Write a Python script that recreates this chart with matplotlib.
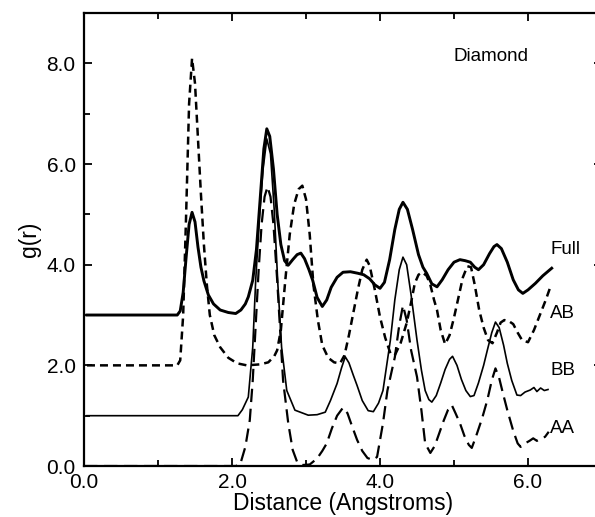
import numpy as np
import matplotlib
matplotlib.use("Agg")
import matplotlib.pyplot as plt
from matplotlib.ticker import MultipleLocator, FormatStrFormatter

plt.rcParams['font.family'] = ['Liberation Sans', 'DejaVu Sans']

# Full g(r), offset +3
full_x = [0.04, 1.26, 1.30, 1.34, 1.38, 1.42, 1.46, 1.50, 1.54, 1.58, 1.62, 1.68, 1.75, 1.84, 1.95,
          2.05, 2.12, 2.18, 2.22, 2.28, 2.33, 2.38, 2.43, 2.47, 2.51, 2.56, 2.61, 2.66, 2.71, 2.76,
          2.82, 2.88, 2.93, 2.98, 3.04, 3.09, 3.15, 3.22, 3.28, 3.34, 3.42, 3.50, 3.60, 3.70, 3.78,
          3.86, 3.93, 4.00, 4.06, 4.13, 4.20, 4.26, 4.31, 4.37, 4.44, 4.52, 4.58, 4.63, 4.70, 4.77,
          4.84, 4.92, 5.00, 5.08, 5.15, 5.22, 5.28, 5.33, 5.40, 5.48, 5.54, 5.58, 5.64, 5.72, 5.80,
          5.87, 5.93, 6.00, 6.10, 6.20, 6.32]
full_y = [3.0, 3.0, 3.08, 3.45, 4.15, 4.8, 5.04, 4.85, 4.35, 3.95, 3.68, 3.4, 3.22, 3.1, 3.05,
          3.03, 3.1, 3.22, 3.36, 3.69, 4.3, 5.3, 6.3, 6.7, 6.55, 5.9, 5.0, 4.4, 4.08, 3.99,
          4.1, 4.2, 4.23, 4.12, 3.9, 3.69, 3.35, 3.17, 3.3, 3.55, 3.75, 3.85, 3.86, 3.83, 3.8,
          3.72, 3.6, 3.53, 3.65, 4.1, 4.7, 5.1, 5.24, 5.1, 4.7, 4.2, 3.95, 3.83, 3.62, 3.56,
          3.7, 3.9, 4.05, 4.1, 4.08, 4.05, 3.95, 3.9, 4.0, 4.22, 4.36, 4.4, 4.32, 4.05, 3.7,
          3.5, 3.43, 3.5, 3.63, 3.78, 3.93]

# AB, offset +2
ab_x = [0.04, 1.26, 1.30, 1.34, 1.38, 1.42, 1.46, 1.50, 1.54, 1.58, 1.62, 1.66, 1.70, 1.76, 1.84,
        1.95, 2.07, 2.20, 2.38, 2.49, 2.57, 2.61, 2.66, 2.72, 2.78, 2.84, 2.90, 2.95, 3.00, 3.05,
        3.10, 3.16, 3.22, 3.30, 3.38, 3.46, 3.52, 3.58, 3.64, 3.70, 3.76, 3.82, 3.86, 3.93, 4.00,
        4.07, 4.14, 4.20, 4.28, 4.36, 4.42, 4.47, 4.52, 4.57, 4.63, 4.68, 4.73, 4.77, 4.82, 4.88,
        4.94, 5.00, 5.06, 5.12, 5.18, 5.23, 5.28, 5.34, 5.40, 5.46, 5.52, 5.58, 5.63, 5.68, 5.74,
        5.80, 5.86, 5.92, 6.00, 6.08, 6.16, 6.24, 6.30]
ab_y = [2.0, 2.0, 2.1, 3.0, 5.0, 7.2, 8.1, 7.6, 6.5, 5.4, 4.4, 3.6, 3.0, 2.6, 2.36,
        2.15, 2.04, 2.0, 2.02, 2.06, 2.18, 2.3, 2.7, 3.69, 4.6, 5.2, 5.5, 5.57, 5.3, 4.6,
        3.6, 2.9, 2.4, 2.15, 2.06, 2.04, 2.2, 2.6, 3.05, 3.5, 3.9, 4.1, 3.98, 3.5, 2.96,
        2.55, 2.24, 2.2, 2.45, 2.84, 3.25, 3.63, 3.8, 3.85, 3.78, 3.6, 3.3, 3.1, 2.7, 2.42,
        2.6, 2.95, 3.35, 3.75, 3.97, 3.95, 3.6, 3.1, 2.75, 2.5, 2.44, 2.65, 2.85, 2.9, 2.88,
        2.82, 2.65, 2.5, 2.46, 2.7, 3.0, 3.3, 3.55]

# BB, offset +1
bb_x = [0.04, 2.08, 2.14, 2.22, 2.28, 2.32, 2.37, 2.42, 2.47, 2.52, 2.57, 2.62, 2.67, 2.74, 2.85,
        3.03, 3.15, 3.26, 3.33, 3.42, 3.48, 3.53, 3.58, 3.64, 3.69, 3.76, 3.84, 3.91, 3.98, 4.04,
        4.09, 4.14, 4.20, 4.26, 4.31, 4.36, 4.42, 4.50, 4.56, 4.61, 4.66, 4.70, 4.76, 4.82, 4.88,
        4.94, 4.98, 5.04, 5.10, 5.16, 5.22, 5.27, 5.33, 5.40, 5.45, 5.51, 5.56, 5.61, 5.67, 5.72,
        5.78, 5.85, 5.90, 5.96, 6.03, 6.08, 6.12, 6.17, 6.22, 6.27]
bb_y = [1.0, 1.0, 1.12, 1.37, 2.36, 3.69, 4.9, 5.9, 6.5, 6.2, 5.1, 3.6, 2.36, 1.5, 1.11,
        1.01, 1.02, 1.07, 1.3, 1.64, 1.95, 2.17, 2.05, 1.8, 1.6, 1.3, 1.1, 1.08, 1.25, 1.5,
        2.0, 2.5, 3.3, 3.9, 4.15, 4.0, 3.4, 2.5, 1.9, 1.5, 1.32, 1.27, 1.4, 1.65, 1.92,
        2.12, 2.18, 2.0, 1.72, 1.5, 1.38, 1.4, 1.65, 2.0, 2.3, 2.65, 2.86, 2.75, 2.4, 2.04,
        1.7, 1.41, 1.4, 1.47, 1.51, 1.56, 1.48, 1.55, 1.5, 1.52]

# AA, no offset
aa_x = [0.0, 2.05, 2.11, 2.18, 2.24, 2.28, 2.32, 2.36, 2.40, 2.44, 2.48, 2.52, 2.56, 2.61, 2.65,
        2.69, 2.76, 2.82, 2.88, 2.95, 3.05, 3.15, 3.22, 3.28, 3.35, 3.42, 3.50, 3.56, 3.62, 3.69,
        3.76, 3.83, 3.90, 3.96, 4.04, 4.10, 4.16, 4.20, 4.26, 4.31, 4.36, 4.42, 4.50, 4.56, 4.61,
        4.68, 4.74, 4.80, 4.86, 4.92, 4.97, 5.02, 5.08, 5.14, 5.20, 5.24, 5.30, 5.38, 5.45, 5.51,
        5.56, 5.61, 5.66, 5.72, 5.80, 5.86, 5.90, 5.96, 6.02, 6.07, 6.12, 6.18, 6.23, 6.28]
aa_y = [0.0, 0.0, 0.03, 0.38, 0.91, 1.7, 2.8, 3.9, 4.8, 5.35, 5.55, 5.35, 4.8, 3.7, 2.7,
        1.7, 0.85, 0.32, 0.08, 0.02, 0.03, 0.15, 0.3, 0.45, 0.75, 1.0, 1.16, 1.05, 0.8, 0.52,
        0.3, 0.16, 0.12, 0.18, 0.85, 1.5, 1.9, 2.16, 2.8, 3.19, 2.9, 2.3, 1.77, 1.1, 0.45,
        0.26, 0.4, 0.65, 0.9, 1.12, 1.21, 1.05, 0.85, 0.6, 0.42, 0.36, 0.6, 0.95, 1.31, 1.7,
        1.94, 1.75, 1.45, 1.11, 0.7, 0.45, 0.38, 0.45, 0.5, 0.55, 0.5, 0.55, 0.58, 0.68]

labels = ["Full", "AB", "BB", "AA"]
label_y = [4.3, 3.04, 1.9, 0.75]

fig = plt.figure(figsize=(5.95, 5.17), dpi=100)
ax = fig.add_axes([0.1412, 0.0986, 0.8706, 0.8762])

ax.plot(aa_x, aa_y, color="black", lw=1.6, dashes=(6, 3), zorder=2)
ax.plot(bb_x, bb_y, color="black", lw=1.2, zorder=3)
ax.plot(ab_x, ab_y, color="black", lw=1.8, dashes=(3.2, 2.0), zorder=4)
ax.plot(full_x, full_y, color="black", lw=2.1, zorder=5)

for lab, yy in zip(labels, label_y):
    ax.text(6.3, yy, lab, fontsize=13.5, va="center", ha="left")
ax.text(5.5, 8.13, "Diamond", fontsize=13.5, va="center", ha="center")

ax.set_xlim(0, 7)
ax.set_ylim(0, 9)
ax.xaxis.set_major_locator(MultipleLocator(2))
ax.xaxis.set_minor_locator(MultipleLocator(1))
ax.yaxis.set_major_locator(MultipleLocator(2))
ax.yaxis.set_minor_locator(MultipleLocator(1))
ax.xaxis.set_major_formatter(FormatStrFormatter("%.1f"))
ax.yaxis.set_major_formatter(FormatStrFormatter("%.1f"))
ax.tick_params(which="both", direction="in", top=True, right=True, width=1.3, labelsize=15)
ax.tick_params(which="major", length=6)
ax.tick_params(which="minor", length=4)
ax.tick_params(axis="y", pad=6)
ax.tick_params(axis="x", pad=5)
for s in ax.spines.values():
    s.set_linewidth(1.6)

ax.set_xlabel("Distance (Angstroms)", fontsize=16.5, labelpad=0)
ax.set_ylabel("g(r)", fontsize=16.5, labelpad=4)

fig.savefig("out.png", dpi=100)
